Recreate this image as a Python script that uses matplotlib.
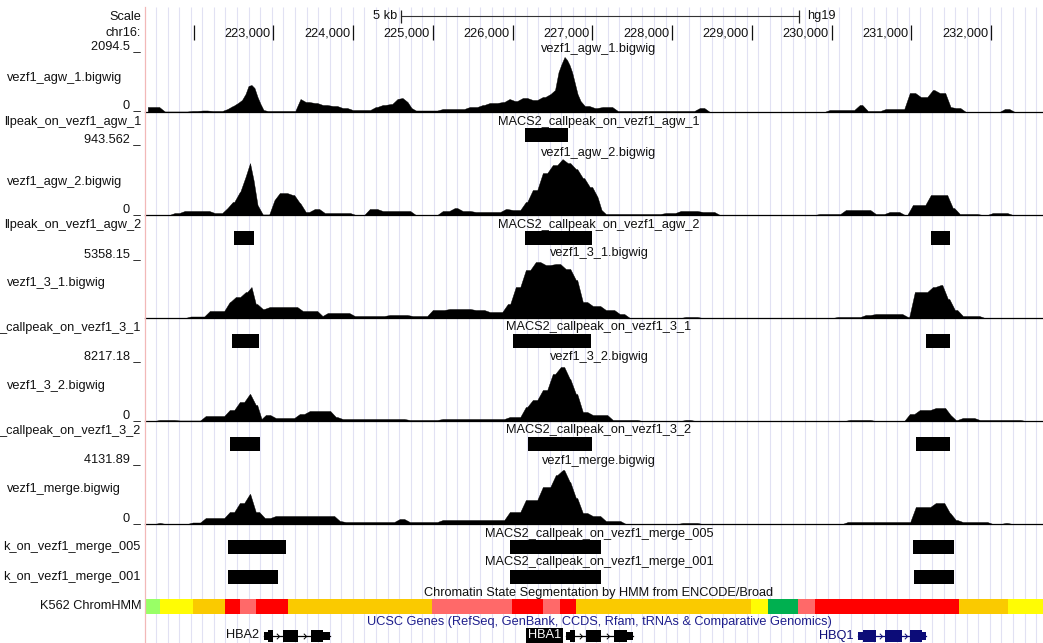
import matplotlib
matplotlib.use("Agg")
import matplotlib.pyplot as plt
import numpy as np
from matplotlib.path import Path

# ---------------- data (positions in kb on chr16, hg19) ----------------
# each signal value holds from its position up to the next position
agw1_pos = [221.391, 221.604, 221.955, 222.081, 222.206, 222.394, 222.457, 222.532, 222.582, 222.633,
            222.670, 222.708, 222.745, 222.783, 222.821, 222.858, 222.896, 223.310, 223.372, 223.485,
            223.586, 223.711, 223.836, 223.962, 224.250, 224.338, 224.438, 224.526, 224.589, 224.652,
            224.714, 224.752, 225.091, 225.429, 225.592, 225.680, 225.843, 225.931, 225.994, 226.094,
            226.219, 226.345, 226.445, 226.508, 226.558, 226.596, 226.633, 226.671, 226.696, 226.733,
            226.759, 226.796, 226.834, 226.871, 226.997, 227.097, 227.285, 227.762, 228.314, 228.439,
            229.944, 230.320, 230.421, 230.646, 230.947, 231.085, 231.236, 231.323, 231.461, 231.524,
            231.650, 232.139, 232.264]
agw1_val = [169, 17, 34, 51, 34, 101, 203, 304, 406, 608,
            879, 913, 811, 507, 270, 68, 34, 439, 338, 304,
            237, 203, 135, 68, 169, 237, 270, 439, 473, 338,
            135, 51, 101, 169, 237, 304, 338, 439, 372, 473,
            406, 507, 608, 744, 1352, 1622, 1859, 1758, 1589, 1352,
            1014, 608, 372, 203, 135, 169, 34, 34, 135, 0,
            68, 237, 34, 101, 642, 507, 744, 642, 169, 135,
            0, 101, 0]

agw2_pos = [221.391, 221.730, 221.855, 222.231, 222.394, 222.457, 222.545, 222.620, 222.683, 222.733,
            222.771, 222.833, 222.984, 223.046, 223.209, 223.297, 223.372, 223.485, 223.611, 223.999,
            224.175, 224.338, 224.752, 225.091, 225.241, 225.341, 225.504, 225.881, 225.969, 226.132,
            226.219, 226.345, 226.470, 226.596, 226.658, 226.759, 226.846, 226.934, 227.034, 227.097,
            227.135, 227.887, 228.075, 228.351, 228.565, 229.819, 230.145, 230.521, 230.696, 230.885,
            230.985, 231.211, 231.486, 231.574, 231.863, 231.988, 232.239]
agw2_val = [0, 30, 61, 30, 106, 198, 350, 578, 790, 532,
            152, 8, 228, 334, 304, 182, 46, 91, 30, 0,
            91, 61, 0, 61, 106, 61, 46, 91, 76, 198,
            380, 638, 760, 851, 790, 699, 562, 426, 274, 76,
            15, 30, 61, 46, 0, 15, 76, 15, 46, 0,
            152, 304, 106, 15, 0, 30, 0]

v31_pos = [221.391, 221.930, 222.169, 222.419, 222.495, 222.620, 222.708, 222.745, 222.833, 222.921,
           223.335, 223.586, 223.648, 223.987, 224.426, 224.714, 224.965, 225.178, 225.504, 225.680,
           225.906, 226.006, 226.132, 226.257, 226.382, 226.508, 226.633, 226.759, 226.846, 226.972,
           227.135, 227.310, 227.436, 228.138, 228.351, 230.044, 230.395, 230.521, 230.922, 231.010,
           231.236, 231.336, 231.424, 231.512, 231.612, 231.888]
v31_val = [0, 130, 605, 1382, 1814, 2246, 2678, 1210, 778, 950,
           605, 173, 432, 173, 259, 173, 691, 778, 691, 518,
           1210, 2678, 4147, 4838, 4579, 4666, 4234, 3283, 1382, 1037,
           691, 346, 0, 86, 0, 86, 259, 346, 86, 2246,
           2678, 2851, 1642, 691, 173, 0]

v32_pos = [221.391, 221.541, 221.792, 222.118, 222.419, 222.545, 222.670, 222.745, 222.833, 222.871,
           222.996, 223.297, 223.423, 223.749, 223.836, 224.677, 225.091, 225.931, 226.132, 226.219,
           226.345, 226.470, 226.570, 226.683, 226.759, 226.846, 226.972, 227.223, 227.599, 228.138,
           228.264, 230.195, 230.521, 230.947, 231.073, 231.273, 231.461, 231.524, 231.612, 231.825,
           232.402]
v32_val = [0, 133, 66, 663, 1458, 2518, 3578, 2120, 265, 795,
           398, 928, 1325, 530, 265, 133, 265, 530, 1855, 2783,
           4108, 6228, 7155, 5565, 3578, 1193, 795, 133, 0, 133,
           0, 133, 0, 928, 1458, 1723, 795, 133, 398, 133,
           0]

merge_pos = [221.391, 221.541, 221.617, 221.955, 222.118, 222.419, 222.545, 222.670, 222.745, 222.858,
             222.996, 223.799, 223.874, 224.551, 224.677, 225.091, 225.931, 226.132, 226.345, 226.508,
             226.596, 226.683, 226.759, 226.846, 226.972, 227.135, 227.386, 228.100, 228.351, 230.170,
             231.022, 231.273, 231.449, 231.524, 231.612, 231.988, 232.151, 232.239]
merge_val = [0, 67, 0, 100, 400, 799, 1399, 1998, 799, 400,
             533, 200, 133, 333, 133, 266, 799, 1598, 2464, 3263,
             3596, 2797, 1732, 733, 533, 200, 0, 67, 0, 133,
             1132, 1399, 733, 266, 133, 0, 67, 0]

bigwig_names = ["vezf1_agw_1.bigwig", "vezf1_agw_2.bigwig", "vezf1_3_1.bigwig",
                "vezf1_3_2.bigwig", "vezf1_merge.bigwig"]
bigwig_max = ["2094.5", "943.562", "5358.15", "8217.18", "4131.89"]
bigwig_maxval = [2094.5, 943.562, 5358.15, 8217.18, 4131.89]

# peak calls (start, end) in kb
peaks_agw1 = [(226.157, 226.696)]
peaks_agw2 = [(222.507, 222.758), (226.157, 226.997), (231.248, 231.487)]
peaks_31 = [(222.482, 222.821), (226.006, 226.984), (231.186, 231.487)]
peaks_32 = [(222.457, 222.833), (226.194, 226.997), (231.060, 231.487)]
peaks_m005 = [(222.432, 223.159), (225.968, 227.110), (231.022, 231.537)]
peaks_m001 = [(222.432, 223.059), (225.968, 227.110), (231.035, 231.537)]
peak_names = ["MACS2_callpeak_on_vezf1_agw_1", "MACS2_callpeak_on_vezf1_agw_2",
              "MACS2_callpeak_on_vezf1_3_1", "MACS2_callpeak_on_vezf1_3_2",
              "MACS2_callpeak_on_vezf1_merge_005", "MACS2_callpeak_on_vezf1_merge_001"]
peak_short = ["llpeak_on_vezf1_agw_1", "llpeak_on_vezf1_agw_2", "_callpeak_on_vezf1_3_1",
              "_callpeak_on_vezf1_3_2", "k_on_vezf1_merge_005", "k_on_vezf1_merge_001"]

# ChromHMM segments
hmm_starts = [221.391, 221.579, 221.993, 222.394, 222.582, 222.783, 223.184, 224.990, 225.994,
              226.382, 226.596, 226.796, 228.991, 229.204, 229.580, 229.794, 231.599, 232.214]
hmm_ends = hmm_starts[1:] + [232.652]
hmm_states = ["Weak_Txn", "Weak_Enhancer", "Strong_Enhancer", "Active_Promoter", "Weak_Promoter",
              "Active_Promoter", "Strong_Enhancer", "Weak_Promoter", "Active_Promoter",
              "Weak_Promoter", "Active_Promoter", "Strong_Enhancer", "Weak_Enhancer",
              "Txn_Elongation", "Weak_Promoter", "Active_Promoter", "Strong_Enhancer",
              "Weak_Enhancer"]
hmm_colors = {"Active_Promoter": "#FF0000", "Weak_Promoter": "#FF6969",
              "Strong_Enhancer": "#FACA00", "Weak_Enhancer": "#FFFC04",
              "Txn_Elongation": "#00B050", "Weak_Txn": "#99FF66"}

# genes: name, tx start, tx end, cds start, cds end, exon starts, exon ends
gene_names = ["HBA2", "HBA1", "HBQ1"]
gene_tx = [(222.883, 223.711), (226.671, 227.511), (230.333, 231.186)]
gene_cds = [(222.934, 223.623), (226.721, 227.436), (230.395, 231.135)]
gene_exon_starts = [[222.883, 223.122, 223.473], [226.671, 226.922, 227.273], [230.333, 230.671, 230.985]]
gene_exon_ends = [[222.996, 223.310, 223.711], [226.784, 227.110, 227.511], [230.558, 230.885, 231.186]]
gene_colors = ["#000000", "#000000", "#0C0C78"]

chr_ticks = [222, 223, 224, 225, 226, 227, 228, 229, 230, 231, 232]
chr_tick_labels = ["", "223,000", "224,000", "225,000", "226,000", "227,000", "228,000",
                   "229,000", "230,000", "231,000", "232,000"]

# ---------------- layout ----------------
W, H = 1043, 643
fig = plt.figure(figsize=(W / 100, H / 100), dpi=100)
plt.rcParams['font.family'] = ['Liberation Sans', 'DejaVu Sans']
FS = 9.2
TXT = "#111111"
X0, X1 = 221.391, 232.652
PX0, PX1 = 145, 1043


def ax_px(y_top, y_bot, x0=PX0, x1=PX1):
    a = fig.add_axes([x0 / W, 1 - y_bot / H, (x1 - x0) / W, (y_bot - y_top) / H])
    a.set_xlim(X0, X1)
    a.axis('off')
    a.patch.set_alpha(0)
    return a


def ftext(x, y, s, ha='right', **kw):
    kw.setdefault('color', TXT)
    kw.setdefault('fontsize', FS)
    fig.text(x / W, 1 - y / H, s, ha=ha, va='center', **kw)


def signal_outline(pos, val, end, ramp=0.035):
    """Held values with short ramps between neighbouring bins."""
    xs, ys = [], []
    for i in range(len(pos)):
        p0 = pos[i]
        p1 = pos[i + 1] if i + 1 < len(pos) else end
        r = min(ramp, (p1 - p0) / 2.0)
        xs += [p0 + r, p1 - r]
        ys += [val[i], val[i]]
    return np.array(xs), np.array(ys)


# background: guidelines + left border
bg = ax_px(0, H)
bg.set_ylim(H, 0)
grid_x = np.arange(221.529, X1, 0.14523)
bg.vlines(grid_x, 7, H, color="#E1E1F3", lw=0.8, zorder=0)
fig.add_artist(plt.Line2D([144.5 / W, 144.5 / W], [0, 1 - 7 / H], color="#F2B8B8", lw=0.9))

# scale row
ftext(141, 17, "Scale")
ftext(141, 33, "chr16:")
bar_start = 224.596
bg.plot([bar_start, bar_start + 5.0], [16, 16], color="#333333", lw=0.8)
bg.vlines([bar_start, bar_start + 5.0], 9.5, 22.5, color="#222222", lw=0.9)
bg.annotate("5 kb", xy=(bar_start, 16), xytext=(-3, 0), textcoords='offset pixels',
            ha='right', va='center', fontsize=FS, color=TXT)
bg.annotate("hg19", xy=(bar_start + 5.0, 16), xytext=(8, 0), textcoords='offset pixels',
            ha='left', va='center', fontsize=FS, color=TXT)
bg.vlines(chr_ticks, 25, 40, color="#111111", lw=0.9)
for t, lab in zip(chr_ticks, chr_tick_labels):
    if lab:
        bg.annotate(lab, xy=(t, 33), xytext=(-3, 0), textcoords='offset pixels',
                    ha='right', va='center', fontsize=FS, color=TXT)

# bigwig tracks
bw_pos = [agw1_pos, agw2_pos, v31_pos, v32_pos, merge_pos]
bw_val = [agw1_val, agw2_val, v31_val, v32_val, merge_val]
bw_base = [112, 215, 318, 421, 524]
bw_title_y = [49, 153, 253, 357, 461]
bw_max_y = [46, 139, 254, 356, 459]
bw_label_y = [78, 182, 283, 386, 489]
bw_zero_y = [105, 209, None, 415, 518]
CX = 599
for i in range(5):
    base = bw_base[i]
    a = ax_px(base - 62, base)
    a.set_ylim(0, bigwig_maxval[i])
    xs, ys = signal_outline(bw_pos[i], bw_val[i], X1)
    a.fill_between(xs, ys, 0, color="black", lw=0.3)
    a.axhline(0, color="black", lw=0.9, clip_on=False)
    ftext(CX, bw_title_y[i], bigwig_names[i], ha='center')
    ftext(141, bw_max_y[i], bigwig_max[i] + " _")
    ftext(7, bw_label_y[i], bigwig_names[i], ha='left')
    if bw_zero_y[i] is not None:
        ftext(141, bw_zero_y[i], "0 _")

# peak tracks
pk_sets = [peaks_agw1, peaks_agw2, peaks_31, peaks_32, peaks_m005, peaks_m001]
pk_box = [(128, 142), (231, 245), (334, 348), (437, 451), (540, 554), (570, 584)]
pk_title_y = [122, 225, 327, 430, 534, 562]
pk_label_y = [122, 225, 328, 431, 547, 577]
for i in range(6):
    y0, y1 = pk_box[i]
    a = ax_px(y0, y1)
    a.set_ylim(0, 1)
    a.broken_barh([(s, e - s) for s, e in pk_sets[i]], (0, 1), facecolor="black", edgecolor="none")
    ftext(CX, pk_title_y[i], peak_names[i], ha='center')
    ftext(141, pk_label_y[i], peak_short[i])

# ChromHMM
a = ax_px(599, 614)
a.set_ylim(0, 1)
for s, e, st in zip(hmm_starts, hmm_ends, hmm_states):
    a.broken_barh([(s, e - s)], (0, 1), facecolor=hmm_colors[st], edgecolor="none")
ftext(CX, 593, "Chromatin State Segmentation by HMM from ENCODE/Broad", ha='center')
ftext(141, 606, "K562 ChromHMM")

# genes
ftext(CX, 622, "UCSC Genes (RefSeq, GenBank, CCDS, Rfam, tRNAs & Comparative Genomics)",
      ha='center', color="#1E1E8C")
ga = ax_px(625, 645)
ga.set_ylim(645, 625)
chev = Path([(-0.6, 1), (0.4, 0), (-0.6, -1)], [Path.MOVETO, Path.LINETO, Path.LINETO])
GY = 635.5
for k in range(3):
    col = gene_colors[k]
    ts, te = gene_tx[k]
    cs, ce = gene_cds[k]
    ga.plot([ts, te], [GY, GY], color=col, lw=0.9)
    for j in range(len(gene_exon_starts[k]) - 1):
        i0, i1 = gene_exon_ends[k][j], gene_exon_starts[k][j + 1]
        mid = (i0 + i1) / 2
        ga.plot([mid], [GY], marker=chev, ms=4, color=col, mew=0.7, fillstyle='none', lw=0)
    for es, ee in zip(gene_exon_starts[k], gene_exon_ends[k]):
        us, ue = es, min(ee, cs)
        if ue > us:
            ga.add_patch(plt.Rectangle((us, GY - 4), ue - us, 8, color=col, lw=0))
        us, ue = max(es, ce), ee
        if ue > us:
            ga.add_patch(plt.Rectangle((us, GY - 4), ue - us, 8, color=col, lw=0))
        s2, e2 = max(es, cs), min(ee, ce)
        if e2 > s2:
            ga.add_patch(plt.Rectangle((s2, GY - 6), e2 - s2, 12, color=col, lw=0))
    if gene_names[k] == "HBA1":
        ga.annotate(gene_names[k], xy=(ts, GY), xytext=(-5, 0), textcoords='offset pixels',
                    ha='right', va='center', fontsize=FS, color="white",
                    bbox=dict(boxstyle="square,pad=0.12", facecolor="black", edgecolor="none"))
    else:
        ga.annotate(gene_names[k], xy=(ts, GY), xytext=(-5, 0), textcoords='offset pixels',
                    ha='right', va='center', fontsize=FS, color=col if k == 2 else TXT)

fig.savefig("out.png", dpi=100, facecolor="white")
